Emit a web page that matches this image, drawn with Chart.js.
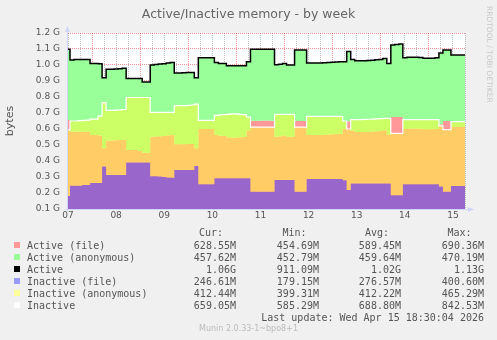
<!DOCTYPE html>
<html>
<head>
<meta charset="utf-8">
<script src="https://cdn.jsdelivr.net/npm/chart.js@4.4.1/dist/chart.umd.min.js"></script>
<style>
body{margin:0;background:#f0f0f0;}
#wrap{position:relative;width:497px;height:340px;overflow:hidden;font-family:"DejaVu Sans",sans-serif;color:#555;}
#c{position:absolute;left:0;top:0;}
.t{position:absolute;white-space:pre;}
.mono{font-family:"DejaVu Sans Mono",monospace;font-size:10px;line-height:12px;color:#555;}
.sq{position:absolute;width:6px;height:6px;}
</style>
</head>
<body>
<div id="wrap">
<canvas id="c" width="497" height="340"></canvas>
<div class="t" style="left:0;top:6px;width:497px;text-align:center;font-size:12.5px;line-height:15px;color:#666">Active/Inactive memory - by week</div>
<div class="t" style="left:484px;top:6px;writing-mode:vertical-rl;font-size:7.5px;line-height:10px;color:#c8c8c8">RRDTOOL / TOBI OETIKER</div>
<div id="legend"></div>
</div>
<script>
// values in G, one sample every 2 hours (from 07 12:00)
var activeFile = [0.656,0.585,0.585,0.583,0.583,0.583,0.563,0.563,0.560,0.479,
  0.528,0.528,0.530,0.531,0.533,0.469,0.469,0.468,0.462,0.452,
  0.452,0.552,0.553,0.555,0.557,0.560,0.562,0.504,0.504,0.505,
  0.506,0.506,0.479,0.600,0.600,0.600,0.600,0.562,0.558,0.556,
  0.548,0.546,0.546,0.548,0.550,0.590,0.652,0.652,0.652,0.653,
  0.653,0.652,0.552,0.555,0.560,0.552,0.552,0.650,0.650,0.650,
  0.562,0.562,0.562,0.563,0.564,0.565,0.567,0.568,0.570,0.600,
  0.648,0.590,0.582,0.582,0.582,0.583,0.584,0.586,0.588,0.592,
  0.565,0.675,0.675,0.675,0.600,0.603,0.603,0.603,0.602,0.598,
  0.598,0.598,0.600,0.630,0.650,0.650,0.614,0.614,0.614,0.614];
var active = [1.098,1.031,1.035,1.035,1.035,1.035,1.010,1.010,1.008,0.920,
  0.973,0.973,0.975,0.977,0.979,0.915,0.915,0.915,0.915,0.894,
  0.894,1.000,1.003,1.006,1.008,1.012,1.015,0.950,0.950,0.952,
  0.953,0.953,0.920,1.045,1.045,1.045,1.045,1.015,1.010,1.010,
  0.996,0.996,0.996,0.996,0.996,1.020,1.098,1.098,1.098,1.098,
  1.098,1.098,1.002,1.004,1.010,1.000,1.000,1.094,1.094,1.094,
  1.012,1.012,1.012,1.013,1.014,1.015,1.017,1.018,1.020,1.021,
  1.085,1.035,1.027,1.027,1.027,1.028,1.030,1.033,1.035,1.040,
  1.010,1.125,1.128,1.131,1.045,1.048,1.048,1.048,1.047,1.042,
  1.042,1.042,1.045,1.075,1.094,1.094,1.062,1.062,1.062,1.062];
var inactiveFile = [0.181,0.246,0.246,0.246,0.250,0.250,0.262,0.262,0.262,0.365,
  0.312,0.312,0.312,0.312,0.312,0.390,0.390,0.390,0.390,0.390,
  0.390,0.304,0.304,0.303,0.300,0.297,0.296,0.344,0.344,0.344,
  0.344,0.344,0.369,0.254,0.254,0.254,0.254,0.292,0.292,0.292,
  0.292,0.292,0.292,0.292,0.292,0.292,0.208,0.208,0.208,0.208,
  0.208,0.208,0.281,0.281,0.281,0.281,0.281,0.208,0.208,0.208,
  0.287,0.287,0.287,0.287,0.287,0.287,0.287,0.287,0.287,0.280,
  0.219,0.260,0.260,0.260,0.260,0.260,0.260,0.260,0.260,0.260,
  0.260,0.186,0.186,0.186,0.254,0.254,0.254,0.254,0.254,0.254,
  0.254,0.254,0.254,0.240,0.208,0.208,0.244,0.244,0.244,0.244];
var inactive = [0.594,0.650,0.650,0.652,0.654,0.656,0.662,0.662,0.680,0.765,
  0.717,0.717,0.718,0.720,0.722,0.797,0.797,0.797,0.797,0.797,
  0.797,0.704,0.704,0.704,0.704,0.704,0.704,0.746,0.746,0.746,
  0.748,0.750,0.755,0.654,0.654,0.654,0.654,0.685,0.688,0.690,
  0.692,0.694,0.694,0.692,0.690,0.675,0.612,0.612,0.612,0.612,
  0.612,0.612,0.692,0.692,0.692,0.692,0.692,0.612,0.612,0.612,
  0.679,0.679,0.679,0.679,0.679,0.679,0.679,0.679,0.679,0.650,
  0.600,0.658,0.658,0.659,0.660,0.661,0.662,0.663,0.665,0.667,
  0.667,0.573,0.573,0.573,0.658,0.658,0.658,0.658,0.658,0.658,
  0.658,0.658,0.658,0.620,0.596,0.596,0.646,0.646,0.646,0.646];

var dayLabels = ['07','08','09','10','11','12','13','14','15'];
var yTicks = [0.1,0.2,0.3,0.4,0.5,0.6,0.7,0.8,0.9,1.0,1.1,1.2];

var legendNames = ['Active (file)','Active (anonymous)','Active','Inactive (file)','Inactive (anonymous)','Inactive'];
var legendColors = ['#ff9999','#99ff99','#000000','#9999ff','#ffff99','#ffffff'];
var curVals = ['628.55M','457.62M','1.06G','246.61M','412.44M','659.05M'];
var minVals = ['454.69M','452.79M','911.09M','179.15M','399.31M','585.29M'];
var avgVals = ['589.45M','459.64M','1.02G','276.57M','412.22M','688.80M'];
var maxVals = ['690.36M','470.19M','1.13G','400.60M','465.29M','842.53M'];
var colHeads = ['Cur:','Min:','Avg:','Max:'];

// hours since 07 00:00
var hours = active.map(function(v, i){ return 12 + 2 * i; });
function pts(arr){ return arr.map(function(v, i){ return {x: hours[i], y: v}; }); }

var gridHours = [];
for (var h = 12; h <= 210; h += 6) gridHours.push(h);

var majorCol = 'rgba(222,79,79,0.6)';
var minorCol = 'rgba(143,143,143,0.55)';

var muninFrame = {
  id: 'muninFrame',
  beforeDraw: function(chart){
    var a = chart.chartArea, ctx = chart.ctx;
    ctx.save();
    ctx.fillStyle = '#ffffff';
    ctx.fillRect(a.left, a.top, a.right - a.left, a.bottom - a.top);
    ctx.restore();
  },
  afterDraw: function(chart){
    var a = chart.chartArea, ctx = chart.ctx;
    var x0 = a.left - 0.5, y0 = a.bottom + 0.5;
    ctx.save();
    ctx.strokeStyle = '#cfd6f8';
    ctx.fillStyle = '#cfd6f8';
    ctx.lineWidth = 1;
    ctx.beginPath();
    ctx.moveTo(x0, y0 + 2); ctx.lineTo(x0, a.top - 4);
    ctx.moveTo(x0 - 2, y0); ctx.lineTo(a.right + 4, y0);
    ctx.stroke();
    ctx.beginPath();
    ctx.moveTo(x0 - 2.5, a.top - 1); ctx.lineTo(x0 + 2.5, a.top - 1); ctx.lineTo(x0, a.top - 7);
    ctx.closePath(); ctx.fill();
    ctx.beginPath();
    ctx.moveTo(a.right + 3, y0 - 2.5); ctx.lineTo(a.right + 3, y0 + 2.5); ctx.lineTo(a.right + 9, y0);
    ctx.closePath(); ctx.fill();
    ctx.restore();
  }
};

new Chart(document.getElementById('c'), {
  type: 'line',
  data: {
    datasets: [
      {label: 'Active (file)', data: pts(activeFile), backgroundColor: '#ff9999', borderColor: 'transparent', borderWidth: 0, fill: 'origin', order: 60},
      {label: 'Active (anonymous)', data: pts(active), backgroundColor: '#99ff99', borderColor: 'transparent', borderWidth: 0, fill: '-1', order: 50},
      {label: 'Active', data: pts(active), borderColor: '#000000', borderWidth: 1.5, fill: false, order: 20},
      {label: 'Inactive (file)', data: pts(inactiveFile), backgroundColor: 'rgba(51,51,255,0.5)', borderColor: 'transparent', borderWidth: 0, fill: 'origin', order: 40},
      {label: 'Inactive (anonymous)', data: pts(inactive), backgroundColor: 'rgba(255,255,51,0.5)', borderColor: 'transparent', borderWidth: 0, fill: '-1', order: 30},
      {label: 'Inactive', data: pts(inactive), borderColor: '#ffffff', borderWidth: 1.2, fill: false, order: 10}
    ]
  },
  options: {
    responsive: false,
    animation: false,
    layout: {padding: {left: 0, right: 32, top: 33, bottom: 111}},
    plugins: {legend: {display: false}, tooltip: {enabled: false}, title: {display: false}},
    elements: {point: {radius: 0}, line: {tension: 0, stepped: 'middle'}},
    scales: {
      x: {
        type: 'linear', min: 12, max: 210, z: 1,
        afterBuildTicks: function(s){ s.ticks = gridHours.map(function(h){ return {value: h}; }); },
        afterFit: function(s){ s.height = 20; },
        grid: {
          color: function(c){ return c.tick && c.tick.value % 24 === 0 ? majorCol : minorCol; },
          lineWidth: 1, drawTicks: false
        },
        border: {display: false, dash: [1, 1]},
        ticks: {
          autoSkip: false, maxRotation: 0, padding: 1, color: '#555',
          font: {family: 'DejaVu Sans', size: 9},
          callback: function(v){ return (v - 12) % 24 === 0 ? dayLabels[(v - 12) / 24] : ''; }
        }
      },
      y: {
        min: 0.1, max: 1.2, z: 1,
        afterBuildTicks: function(s){ s.ticks = yTicks.map(function(v){ return {value: v}; }); },
        afterFit: function(s){ s.width = 68; },
        grid: {color: majorCol, lineWidth: 1, drawTicks: false},
        border: {display: false, dash: [1, 1]},
        title: {display: true, text: 'bytes', color: '#555', font: {family: 'DejaVu Sans', size: 11}, padding: {top: 4, bottom: 0}},
        ticks: {
          padding: 8, color: '#555',
          font: {family: 'DejaVu Sans', size: 9},
          callback: function(v){ return v.toFixed(1) + ' G'; }
        }
      }
    }
  },
  plugins: [muninFrame]
});

// legend block under the graph
var lg = document.getElementById('legend');
var colRight = [236, 319, 401, 484];
var headLeft = [199, 282.5, 365, 447.5];
function addText(txt, left, top, width, align){
  var d = document.createElement('div');
  d.className = 't mono';
  d.textContent = txt;
  d.style.left = left + 'px';
  d.style.top = top + 'px';
  if (width) { d.style.width = width + 'px'; d.style.textAlign = align; }
  lg.appendChild(d);
}
colHeads.forEach(function(hd, j){ addText(hd, headLeft[j], 227); });
legendNames.forEach(function(name, i){
  var top = 240 + 12 * i;
  var sq = document.createElement('div');
  sq.className = 'sq';
  sq.style.left = '14px';
  sq.style.top = (top + 2) + 'px';
  sq.style.background = legendColors[i];
  lg.appendChild(sq);
  addText(name, 27, top);
  [curVals, minVals, avgVals, maxVals].forEach(function(col, j){
    addText(col[i], colRight[j] - 70, top, 70, 'right');
  });
});
addText('Last update: Wed Apr 15 18:30:04 2026', colRight[3] - 260, 312, 260, 'right');
var mv = document.createElement('div');
mv.className = 't';
mv.textContent = 'Munin 2.0.33-1~bpo8+1';
mv.style.cssText = 'left:0;top:324px;width:497px;text-align:center;font-size:8px;line-height:10px;color:#bbb';
lg.appendChild(mv);
</script>
</body>
</html>
